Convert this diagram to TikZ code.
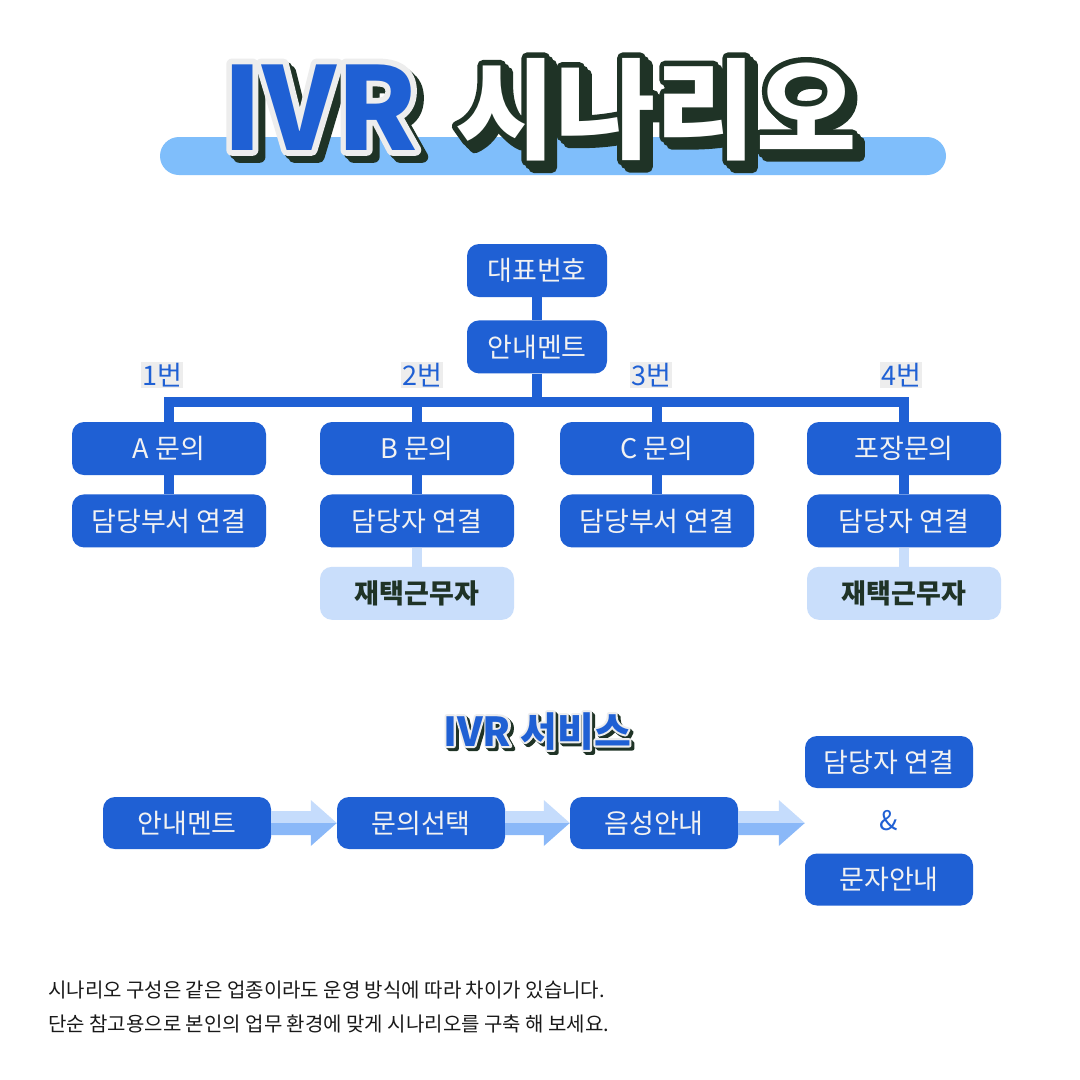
\documentclass[tikz,border=0pt]{standalone}
\usepackage{fontspec}
\setmainfont{Noto Sans CJK KR}
\newfontfamily\rimfont{Noto Sans CJK KR}[BoldFeatures={FakeBold=10}]
\usetikzlibrary{positioning,calc}
\definecolor{ivrblue}{RGB}{31,96,212}
\definecolor{ivrpill}{RGB}{127,190,251}
\definecolor{ivrdark}{RGB}{31,51,38}
\definecolor{ivrgray}{RGB}{237,237,237}
\definecolor{ivrlight}{RGB}{201,222,251}
\definecolor{ivrwhite}{RGB}{242,242,242}
\definecolor{arrowtop}{RGB}{197,220,252}
\definecolor{arrowbot}{RGB}{138,184,248}

\newcommand{\kfont}[1]{\fontsize{#1}{#1}\selectfont}
% name, position, anchor, size, fill, rim colour, drop, text
\newcommand{\popword}[8]{%
  \node[anchor=#3,inner sep=0pt,line join=round,font=\rimfont\bfseries\kfont{#4},text=ivrdark] at ($(#2)+(#7,#7)$) {#8};
  \node[anchor=#3,inner sep=0pt,line join=round,font=\rimfont\bfseries\kfont{#4},text=ivrdark] at ($(#2)+(#7/2,#7/2)$) {#8};
  \node[anchor=#3,inner sep=0pt,line join=round,font=\rimfont\bfseries\kfont{#4},text=#6] at (#2) {#8};
  \node[anchor=#3,inner sep=0pt,font=\bfseries\kfont{#4},text=#5] (#1) at (#2) {#8};
}
% two-tone block arrow between two anchors
\newcommand{\svcarrow}[2]{%
  \fill[arrowtop] (#1) -- ($(#1)+(0,-12)$) -- ($(#2)+(-26,-12)$) -- ($(#2)+(-26,-23)$) -- (#2) -- cycle;
  \fill[arrowbot] (#1) -- (#2) -- ($(#2)+(-26,23)$) -- ($(#2)+(-26,12)$) -- ($(#1)+(0,12)$) -- cycle;
}

\begin{document}
\begin{tikzpicture}[x=1pt,y=-1pt,
  treebox/.style={rectangle,rounded corners=12pt,fill=ivrblue,text=ivrwhite,minimum width=194pt,minimum height=53pt,inner sep=0pt,font=\kfont{27}},
  homebox/.style={treebox,fill=ivrlight,text=ivrdark,font=\bfseries\kfont{27}},
  svcbox/.style={treebox,minimum width=168pt,minimum height=52pt},
  keylabel/.style={fill=ivrgray,text=ivrblue,inner sep=1.5pt,font=\kfont{27}},
  treeline/.style={draw=ivrblue,line width=10pt},
  homeline/.style={draw=ivrlight,line width=10pt}]
  \useasboundingbox (0,0) rectangle (1080,1080);
  \fill[white] (0,0) rectangle (1080,1080);

  % title
  \fill[ivrpill,rounded corners=19pt] (160,137) rectangle (946,175);
  \popword{ttlivr}{418,150}{base east}{115}{ivrblue}{ivrgray}{7}{IVR}
  \popword{ttlko}{455,150}{base west}{109}{white}{ivrdark}{7}{시나리오}

  % scenario tree
  \node[treebox,minimum width=140pt] (main) at (537,270.5) {대표번호};
  \node[treebox,minimum width=140pt,below=23pt of main] (intro) {안내멘트};
  \node[treebox] (qa) at (169,448.5) {A 문의};
  \node[treebox] (qb) at (417,448.5) {B 문의};
  \node[treebox] (qc) at (657,448.5) {C 문의};
  \node[treebox] (qd) at (904,448.5) {포장문의};
  \node[treebox,below=19pt of qa] (ca) {담당부서 연결};
  \node[treebox,below=19pt of qb] (cb) {담당자 연결};
  \node[treebox,below=19pt of qc] (cc) {담당부서 연결};
  \node[treebox,below=19pt of qd] (cd) {담당자 연결};
  \node[homebox,below=19pt of cb] (rb) {재택근무자};
  \node[homebox,below=19pt of cd] (rd) {재택근무자};
  \coordinate (bar) at (537,402);
  \draw[treeline] (main) -- (intro);
  \draw[treeline] (intro) -- (bar);
  \draw[treeline] (qa.north) |- (bar) -| (qd.north);
  \draw[treeline] (qb.north) -- (qb.north |- bar);
  \draw[treeline] (qc.north) -- (qc.north |- bar);
  \draw[treeline] (qa) -- (ca);
  \draw[treeline] (qb) -- (cb);
  \draw[treeline] (qc) -- (cc);
  \draw[treeline] (qd) -- (cd);
  \draw[homeline] (cb) -- (rb);
  \draw[homeline] (cd) -- (rd);
  \node[keylabel] (k1) at (162,375) {1번};
  \node[keylabel] (k2) at (422,375) {2번};
  \node[keylabel] (k3) at (651,375) {3번};
  \node[keylabel] (k4) at (901,375) {4번};

  % service flow
  \popword{svctitle}{537,746}{base}{40}{ivrblue}{ivrgray}{3}{IVR 서비스}
  \node[svcbox] (s1) at (187,823) {안내멘트};
  \node[svcbox] (s2) at (421,823) {문의선택};
  \node[svcbox] (s3) at (654,823) {음성안내};
  \node[svcbox] (s4a) at (889,762) {담당자 연결};
  \node[svcbox] (s4b) at (889,879.5) {문자안내};
  \node[text=ivrblue,font=\kfont{27}] (amp) at (889,821) {\&};
  \coordinate (tip3) at (s3.east -| s4a.west);
  \svcarrow{s1.east}{s2.west}
  \svcarrow{s2.east}{s3.west}
  \svcarrow{s3.east}{tip3}

  % footnote
  \node[anchor=west,inner sep=0pt,font=\kfont{20},text=black!90] (note1) at (48,990) {시나리오 구성은 같은 업종이라도 운영 방식에 따라 차이가 있습니다.};
  \node[anchor=west,inner sep=0pt,font=\kfont{20},text=black!90] (note2) at (48,1024) {단순 참고용으로 본인의 업무 환경에 맞게 시나리오를 구축 해 보세요.};
\end{tikzpicture}
\end{document}
